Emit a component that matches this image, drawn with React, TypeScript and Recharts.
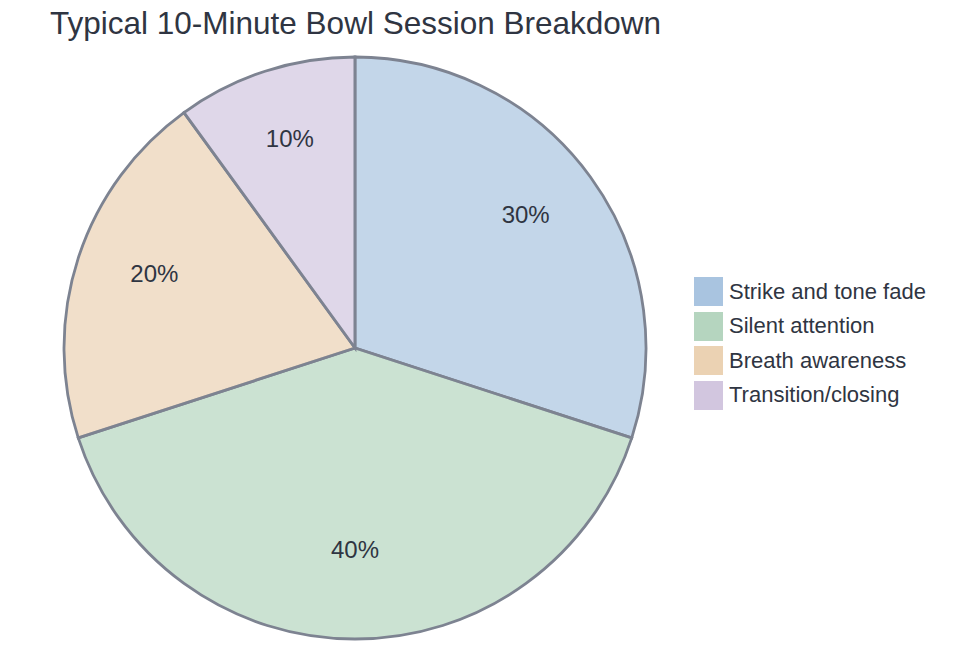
import React from "react";
import { PieChart, Pie, Cell, Legend } from "recharts";

const categories = ["Strike and tone fade", "Silent attention", "Breath awareness", "Transition/closing"];
const shares = [30, 40, 20, 10];
const colors = ["#a9c4e0", "#b5d5bf", "#ebd2b3", "#d2c6df"];

const title = "Typical 10-Minute Bowl Session Breakdown";
const FONT = "'Liberation Sans', Arial, sans-serif";
const INK = "#2f3542";

const data = categories.map((name, i) => ({ name, value: shares[i] }));

const RAD = Math.PI / 180;

const renderLabel = (props: any) => {
  const { cx, cy, midAngle, outerRadius, value } = props;
  const r = outerRadius * 0.725;
  const x = cx + r * Math.cos(-midAngle * RAD);
  const y = cy + r * Math.sin(-midAngle * RAD) - 9;
  return (
    <text x={x} y={y} textAnchor="middle" dominantBaseline="central" fill={INK} fontSize={24} fontFamily={FONT}>
      {value}%
    </text>
  );
};

const LegendContent = () => (
  <div style={{ fontFamily: FONT }}>
    {categories.map((c, i) => (
      <div key={c} style={{ display: "flex", alignItems: "center", height: 29, marginBottom: 5.5 }}>
        <div style={{ width: 29, height: 29, background: colors[i], marginRight: 6 }} />
        <span style={{ fontSize: 22, color: INK }}>{c}</span>
      </div>
    ))}
  </div>
);

export default function App() {
  return (
    <div style={{ position: "absolute", left: 0, top: 0, width: 959, height: 665, background: "#fff" }}>
      <div
        style={{
          position: "absolute",
          left: 50,
          top: 5,
          fontFamily: FONT,
          fontSize: 31.5,
          lineHeight: "36px",
          color: INK,
          whiteSpace: "nowrap",
        }}
      >
        {title}
      </div>
      <PieChart width={959} height={665} margin={{ top: 0, right: 0, bottom: 0, left: 0 }}>
        <Pie
          data={data}
          dataKey="value"
          nameKey="name"
          cx={355}
          cy={348}
          outerRadius={291}
          startAngle={90}
          endAngle={-270}
          stroke="#7d8391"
          strokeWidth={2.8}
          label={renderLabel}
          labelLine={false}
          isAnimationActive={false}
        >
          {data.map((d, i) => (
            <Cell key={d.name} fill={colors[i]} fillOpacity={0.7} />
          ))}
        </Pie>
        <Legend
          content={<LegendContent />}
          wrapperStyle={{ position: "absolute", left: 694, top: 277, width: 260 }}
        />
      </PieChart>
    </div>
  );
}
